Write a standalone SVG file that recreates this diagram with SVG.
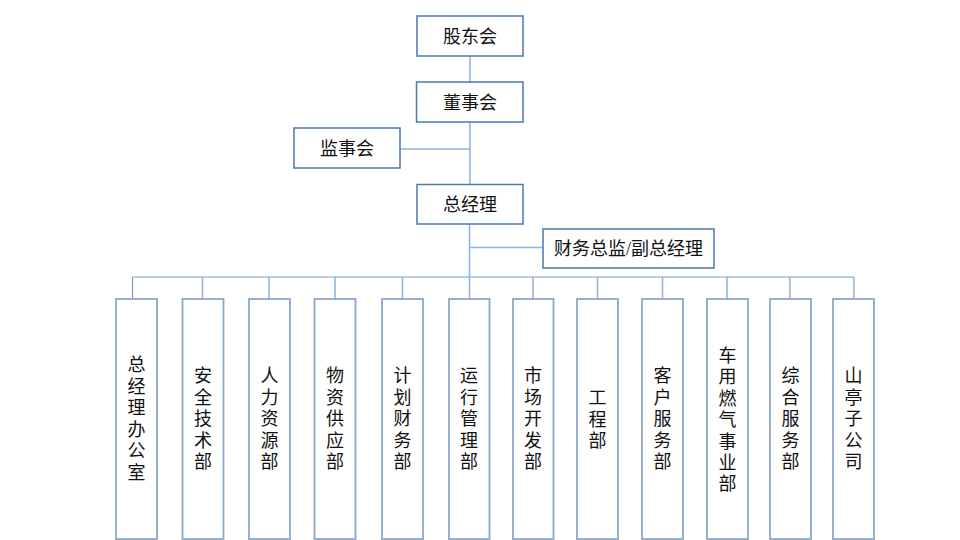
<svg xmlns="http://www.w3.org/2000/svg" width="960" height="540" viewBox="0 0 960 540">
<style>
.top{fill:#fff;stroke:#4a78b0;stroke-width:1.5}
.dept{fill:#fff;stroke:#8aa8cc;stroke-width:1.8}
.c{fill:none;stroke:#8db6e0;stroke-width:1.6}
.b{fill:none;stroke:#6f9fd6;stroke-width:1.2}
text{font-family:"Liberation Serif","Noto Sans CJK SC",serif;font-size:18px;fill:#111;text-anchor:middle}
</style>
<rect width="960" height="540" fill="#fff"/>
<g id="connectors">
<line class="c" x1="470" y1="56" x2="470" y2="82"/>
<line class="c" x1="470" y1="122" x2="470" y2="184"/>
<line class="c" x1="400" y1="149" x2="470" y2="149"/>
<line class="c" x1="469.5" y1="224" x2="469.5" y2="277"/>
<line class="c" x1="469.5" y1="247.5" x2="543" y2="247.5"/>
<line class="b" x1="132.5" y1="277" x2="854" y2="277"/>
<line class="b" x1="132.5" y1="277" x2="132.5" y2="299"/>
<line class="c" x1="202.5" y1="277" x2="202.5" y2="299"/>
<line class="c" x1="269" y1="277" x2="269" y2="299"/>
<line class="c" x1="335" y1="277" x2="335" y2="299"/>
<line class="c" x1="402.5" y1="277" x2="402.5" y2="299"/>
<line class="c" x1="469.5" y1="277" x2="469.5" y2="299"/>
<line class="c" x1="533" y1="277" x2="533" y2="299"/>
<line class="c" x1="597.5" y1="277" x2="597.5" y2="299"/>
<line class="c" x1="662.5" y1="277" x2="662.5" y2="299"/>
<line class="c" x1="727" y1="277" x2="727" y2="299"/>
<line class="c" x1="790" y1="277" x2="790" y2="299"/>
<line class="b" x1="854" y1="277" x2="854" y2="299"/>
</g>
<g id="gudonghui"><rect class="top" x="417" y="16" width="106" height="40"/><text x="470" y="42.5">股东会</text></g>
<g id="dongshihui"><rect class="top" x="416.5" y="82" width="106.5" height="40"/><text x="470" y="108.5">董事会</text></g>
<g id="jianshihui"><rect class="top" x="294" y="128" width="106" height="40"/><text x="347" y="154.5">监事会</text></g>
<g id="zongjingli"><rect class="top" x="417" y="184.5" width="106" height="39.5"/><text x="470" y="210.5">总经理</text></g>
<g id="caiwuzongjian"><rect class="top" x="543" y="229" width="171" height="39"/><text x="628.5" y="254.5">财务总监/副总经理</text></g>
<g id="d1"><rect class="dept" x="116" y="299" width="41" height="240"/><text x="136.5"><tspan x="136.5" y="371">总</tspan><tspan x="136.5" dy="21.6">经</tspan><tspan x="136.5" dy="21.6">理</tspan><tspan x="136.5" dy="21.6">办</tspan><tspan x="136.5" dy="21.6">公</tspan><tspan x="136.5" dy="21.6">室</tspan></text></g>
<g id="d2"><rect class="dept" x="182.5" y="299" width="41" height="240"/><text x="203"><tspan x="203" y="382">安</tspan><tspan x="203" dy="21.6">全</tspan><tspan x="203" dy="21.6">技</tspan><tspan x="203" dy="21.6">术</tspan><tspan x="203" dy="21.6">部</tspan></text></g>
<g id="d3"><rect class="dept" x="249" y="299" width="41" height="240"/><text x="269.5"><tspan x="269.5" y="382">人</tspan><tspan x="269.5" dy="21.6">力</tspan><tspan x="269.5" dy="21.6">资</tspan><tspan x="269.5" dy="21.6">源</tspan><tspan x="269.5" dy="21.6">部</tspan></text></g>
<g id="d4"><rect class="dept" x="314.5" y="299" width="41" height="240"/><text x="335"><tspan x="335" y="382">物</tspan><tspan x="335" dy="21.6">资</tspan><tspan x="335" dy="21.6">供</tspan><tspan x="335" dy="21.6">应</tspan><tspan x="335" dy="21.6">部</tspan></text></g>
<g id="d5"><rect class="dept" x="382" y="299" width="41" height="240"/><text x="402.5"><tspan x="402.5" y="382">计</tspan><tspan x="402.5" dy="21.6">划</tspan><tspan x="402.5" dy="21.6">财</tspan><tspan x="402.5" dy="21.6">务</tspan><tspan x="402.5" dy="21.6">部</tspan></text></g>
<g id="d6"><rect class="dept" x="449" y="299" width="40.5" height="240"/><text x="469"><tspan x="469" y="382">运</tspan><tspan x="469" dy="21.6">行</tspan><tspan x="469" dy="21.6">管</tspan><tspan x="469" dy="21.6">理</tspan><tspan x="469" dy="21.6">部</tspan></text></g>
<g id="d7"><rect class="dept" x="513" y="299" width="40.5" height="240"/><text x="533"><tspan x="533" y="382">市</tspan><tspan x="533" dy="21.6">场</tspan><tspan x="533" dy="21.6">开</tspan><tspan x="533" dy="21.6">发</tspan><tspan x="533" dy="21.6">部</tspan></text></g>
<g id="d8"><rect class="dept" x="577" y="299" width="41" height="240"/><text x="597.5"><tspan x="597.5" y="404">工</tspan><tspan x="597.5" dy="21.6">程</tspan><tspan x="597.5" dy="21.6">部</tspan></text></g>
<g id="d9"><rect class="dept" x="642" y="299" width="41" height="240"/><text x="662.5"><tspan x="662.5" y="382">客</tspan><tspan x="662.5" dy="21.6">户</tspan><tspan x="662.5" dy="21.6">服</tspan><tspan x="662.5" dy="21.6">务</tspan><tspan x="662.5" dy="21.6">部</tspan></text></g>
<g id="d10"><rect class="dept" x="707" y="299" width="41" height="240"/><text x="727.5"><tspan x="727.5" y="362">车</tspan><tspan x="727.5" dy="21.4">用</tspan><tspan x="727.5" dy="21.4">燃</tspan><tspan x="727.5" dy="21.4">气</tspan><tspan x="727.5" dy="21.4">事</tspan><tspan x="727.5" dy="21.4">业</tspan><tspan x="727.5" dy="21.4">部</tspan></text></g>
<g id="d11"><rect class="dept" x="770" y="299" width="41" height="240"/><text x="790.5"><tspan x="790.5" y="382">综</tspan><tspan x="790.5" dy="21.6">合</tspan><tspan x="790.5" dy="21.6">服</tspan><tspan x="790.5" dy="21.6">务</tspan><tspan x="790.5" dy="21.6">部</tspan></text></g>
<g id="d12"><rect class="dept" x="833" y="299" width="41" height="240"/><text x="853.5"><tspan x="853.5" y="382">山</tspan><tspan x="853.5" dy="21.6">亭</tspan><tspan x="853.5" dy="21.6">子</tspan><tspan x="853.5" dy="21.6">公</tspan><tspan x="853.5" dy="21.6">司</tspan></text></g>
</svg>
